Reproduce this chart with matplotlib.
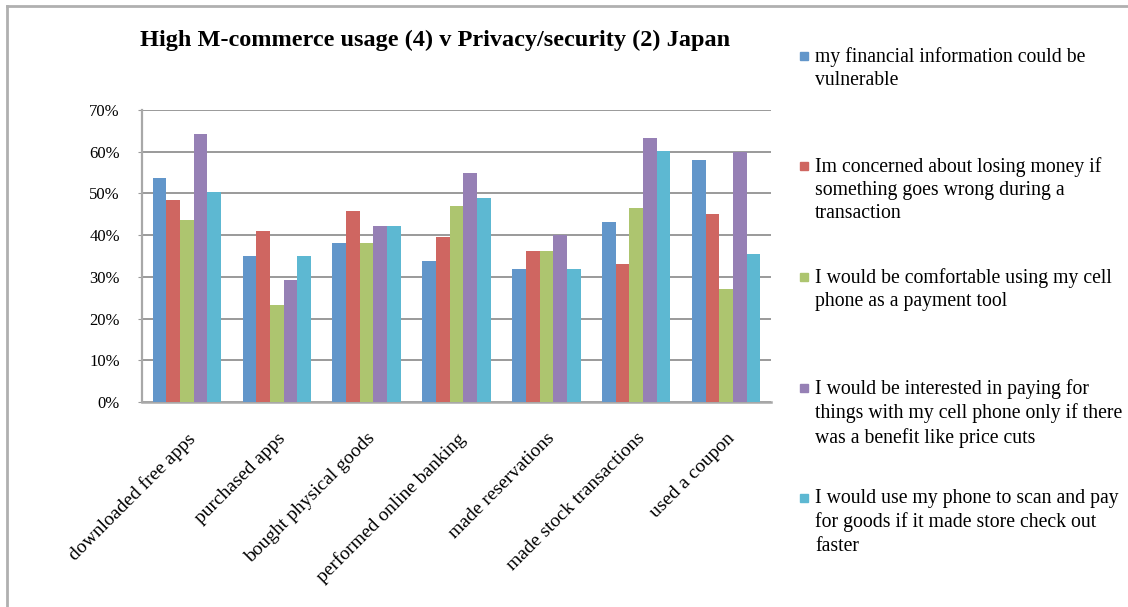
import matplotlib
matplotlib.use("Agg")
import matplotlib.pyplot as plt
import numpy as np
from matplotlib.lines import Line2D
from matplotlib.patches import Rectangle

categories = ["downloaded free apps", "purchased apps", "bought physical goods",
              "performed online banking", "made reservations",
              "made stock transactions", "used a coupon"]

series_labels = [
    "my financial information could be\nvulnerable",
    "Im concerned about losing money if\nsomething goes wrong during a\ntransaction",
    "I would be comfortable using my cell\nphone as a payment tool",
    "I would be interested in paying for\nthings with my cell phone only if there\nwas a benefit like price cuts",
    "I would use my phone to scan and pay\nfor goods if it made store check out\nfaster",
]

financial_vulnerable = [53.6, 35.1, 38.2, 33.9, 31.8, 43.1, 58.0]
losing_money = [48.5, 40.9, 45.9, 39.6, 36.1, 33.1, 45.1]
comfortable_payment = [43.7, 23.2, 38.2, 47.1, 36.1, 46.4, 27.2]
interested_price_cuts = [64.2, 29.3, 42.1, 54.8, 40.1, 63.3, 59.9]
scan_and_pay = [50.4, 35.1, 42.1, 49.0, 31.8, 60.1, 35.4]

series_values = [financial_vulnerable, losing_money, comfortable_payment,
                 interested_price_cuts, scan_and_pay]

yticks = [0, 10, 20, 30, 40, 50, 60, 70]
ytick_labels = ["0%", "10%", "20%", "30%", "40%", "50%", "60%", "70%"]

colors = ["#6296CA", "#CF6661", "#ADC56F", "#9680B5", "#5DB8D2"]

plt.rcParams['font.family'] = ['Liberation Serif', 'DejaVu Serif']

W, H = 1128, 607
fig = plt.figure(figsize=(W / 100, H / 100), dpi=100)
ax = fig.add_axes([142 / W, 1 - 402 / H, (771 - 142) / W, (402 - 110) / H])

x = np.arange(len(categories))
bw = 0.152
n = len(series_values)
for i, (vals, c) in enumerate(zip(series_values, colors)):
    ax.bar(x + (i - (n - 1) / 2) * bw, vals, width=bw, color=c, zorder=3,
           edgecolor='none')

ax.set_xlim(-0.5, len(categories) - 0.5)
ax.set_ylim(0, 70)
ax.set_yticks(yticks)
ax.set_yticklabels(ytick_labels, fontsize=12)
ax.yaxis.grid(True, color='#9a9a9a', linewidth=1.4, zorder=1)
ax.set_axisbelow(True)
ax.tick_params(axis='y', length=3, color='#9a9a9a', pad=13)
ax.set_xticks(x)
ax.set_xticklabels(categories, rotation=45, ha='right', va='top',
                   rotation_mode='anchor', fontsize=14)
ax.tick_params(axis='x', length=0, pad=20)

for s in ['top', 'right']:
    ax.spines[s].set_visible(False)
ax.spines['left'].set_color('#a8a8a8')
ax.spines['left'].set_linewidth(1.6)
ax.spines['bottom'].set_color('#a8a8a8')
ax.spines['bottom'].set_linewidth(1.8)

fig.text(435 / W, 1 - 40 / H, "High M-commerce usage (4) v Privacy/security (2) Japan",
         ha='center', va='center', fontsize=17.5, fontweight='bold')

# legend (manual, equal top-to-top spacing)
tops = [58, 168, 279, 390, 500]
for lab, c, t in zip(series_labels, colors, tops):
    fig.patches.append(Rectangle((800 / W, 1 - (t + 2) / H), 8 / W, 8 / H,
                                 transform=fig.transFigure, color=c))
    fig.text(815 / W, 1 - (t - 11) / H, lab, ha='left', va='top', fontsize=14.2,
             linespacing=1.3)

# figure frame (top and left edges visible)
fig.add_artist(Line2D([7 / W, 7 / W], [0, 1 - 6 / H], transform=fig.transFigure,
                      color='#b0b0b0', linewidth=2))
fig.add_artist(Line2D([7 / W, 1], [1 - 6 / H, 1 - 6 / H], transform=fig.transFigure,
                      color='#b0b0b0', linewidth=2))

fig.savefig("out.png", dpi=100)
